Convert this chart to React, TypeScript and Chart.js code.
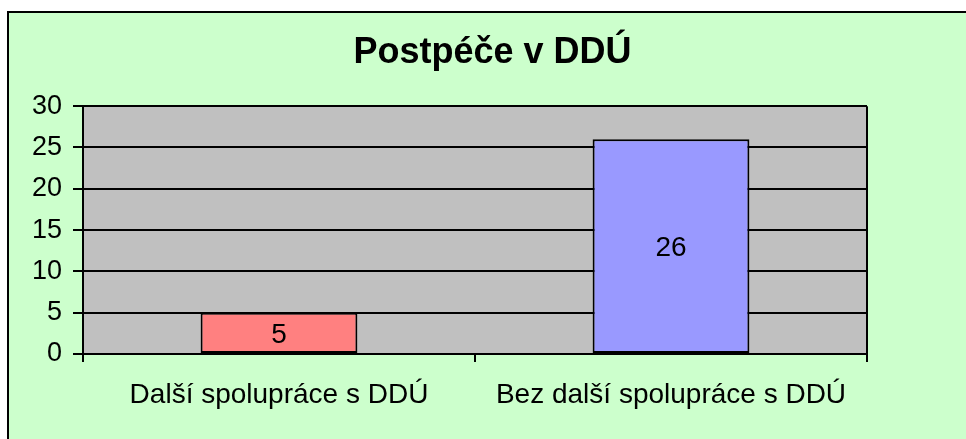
import React, { useEffect, useRef } from "react";
import { Chart, registerables } from "chart.js";

Chart.register(...registerables);

const titleText = "Postpéče v DDÚ";
const categories = ["Další spolupráce s DDÚ", "Bez další spolupráce s DDÚ"];
const values = [5, 26];
const barColors = ["#FF8080", "#9999FF"];
const yTicks = [0, 5, 10, 15, 20, 25, 30];

const FONT = "'Liberation Sans', Arial, sans-serif";

const backgroundPlugin = {
  id: "bgPlugin",
  beforeDraw(chart: any) {
    const { ctx, width, height, chartArea } = chart;
    ctx.save();
    ctx.fillStyle = "#FFFFFF";
    ctx.fillRect(0, 0, width, height);
    ctx.fillStyle = "#CCFFCC";
    ctx.fillRect(8, 12, width, height);
    ctx.strokeStyle = "#000000";
    ctx.lineWidth = 2;
    ctx.strokeRect(8, 12, width + 20, height + 20);
    ctx.fillStyle = "#C0C0C0";
    ctx.fillRect(chartArea.left, chartArea.top, chartArea.right - chartArea.left, chartArea.bottom - chartArea.top);
    ctx.restore();
  },
  afterDraw(chart: any) {
    const { ctx, chartArea } = chart;
    ctx.save();
    ctx.strokeStyle = "#000000";
    ctx.lineWidth = 2;
    ctx.beginPath();
    ctx.moveTo(chartArea.right, chartArea.top);
    ctx.lineTo(chartArea.right, chartArea.bottom + 8);
    ctx.stroke();
    ctx.restore();
  },
};

const labelPlugin = {
  id: "barLabels",
  afterDatasetsDraw(chart: any) {
    const { ctx } = chart;
    ctx.save();
    ctx.font = `28px ${FONT}`;
    ctx.fillStyle = "#000000";
    ctx.textAlign = "center";
    ctx.textBaseline = "middle";
    chart.data.datasets.forEach((ds: any, di: number) => {
      const meta = chart.getDatasetMeta(di);
      meta.data.forEach((el: any, i: number) => {
        const v = ds.data[i];
        const cy = (el.y + el.base) / 2;
        ctx.fillText(String(v), el.x, cy + 2);
      });
    });
    ctx.restore();
  },
};

export default function App() {
  const ref = useRef<HTMLCanvasElement | null>(null);

  useEffect(() => {
    if (!ref.current) return;
    const chart = new Chart(ref.current, {
      type: "bar",
      data: {
        labels: categories,
        datasets: [
          {
            data: values,
            backgroundColor: barColors,
            borderColor: "#000000",
            borderWidth: 2,
            borderSkipped: false,
            barPercentage: 0.4,
            categoryPercentage: 1.0,
          },
        ],
      },
      options: {
        animation: false,
        responsive: false,
        maintainAspectRatio: false,
        layout: { padding: { left: 19, right: 0, top: 0, bottom: 0 } },
        plugins: {
          legend: { display: false },
          tooltip: { enabled: false },
          title: {
            display: true,
            text: titleText,
            color: "#000000",
            font: { family: FONT, size: 36, weight: "bold" },
            padding: { top: 31, bottom: 32 },
          },
        },
        scales: {
          x: {
            offset: true,
            grid: {
              offset: true,
              drawOnChartArea: false,
              drawTicks: true,
              tickLength: 8,
              color: "#000000",
              lineWidth: 2,
            },
            border: { display: true, color: "#000000", width: 2 },
            ticks: {
              color: "#000000",
              font: { family: FONT, size: 28 },
              padding: 16,
              maxRotation: 0,
              autoSkip: false,
            },
            afterFit(scale: any) {
              scale.height = 85;
            },
          },
          y: {
            min: yTicks[0],
            max: yTicks[yTicks.length - 1],
            grid: {
              color: "#000000",
              lineWidth: 2,
              tickLength: 10,
              drawTicks: true,
            },
            border: { display: true, color: "#000000", width: 2 },
            ticks: {
              stepSize: 5,
              color: "#000000",
              font: { family: FONT, size: 27 },
              padding: 11,
            },
            afterFit(scale: any) {
              scale.width = 64;
            },
          },
          yR: {
            type: "linear",
            position: "right",
            display: true,
            min: 0,
            max: 30,
            grid: { display: false, drawOnChartArea: false },
            border: { display: false },
            ticks: { display: false },
            afterFit(scale: any) {
              scale.width = 99;
            },
          },
        },
      },
      plugins: [backgroundPlugin, labelPlugin],
    });
    return () => chart.destroy();
  }, []);

  return (
    <div style={{ position: "absolute", left: 0, top: 0, width: 966, height: 439 }}>
      <canvas ref={ref} width={966} height={439} style={{ display: "block" }} />
    </div>
  );
}
